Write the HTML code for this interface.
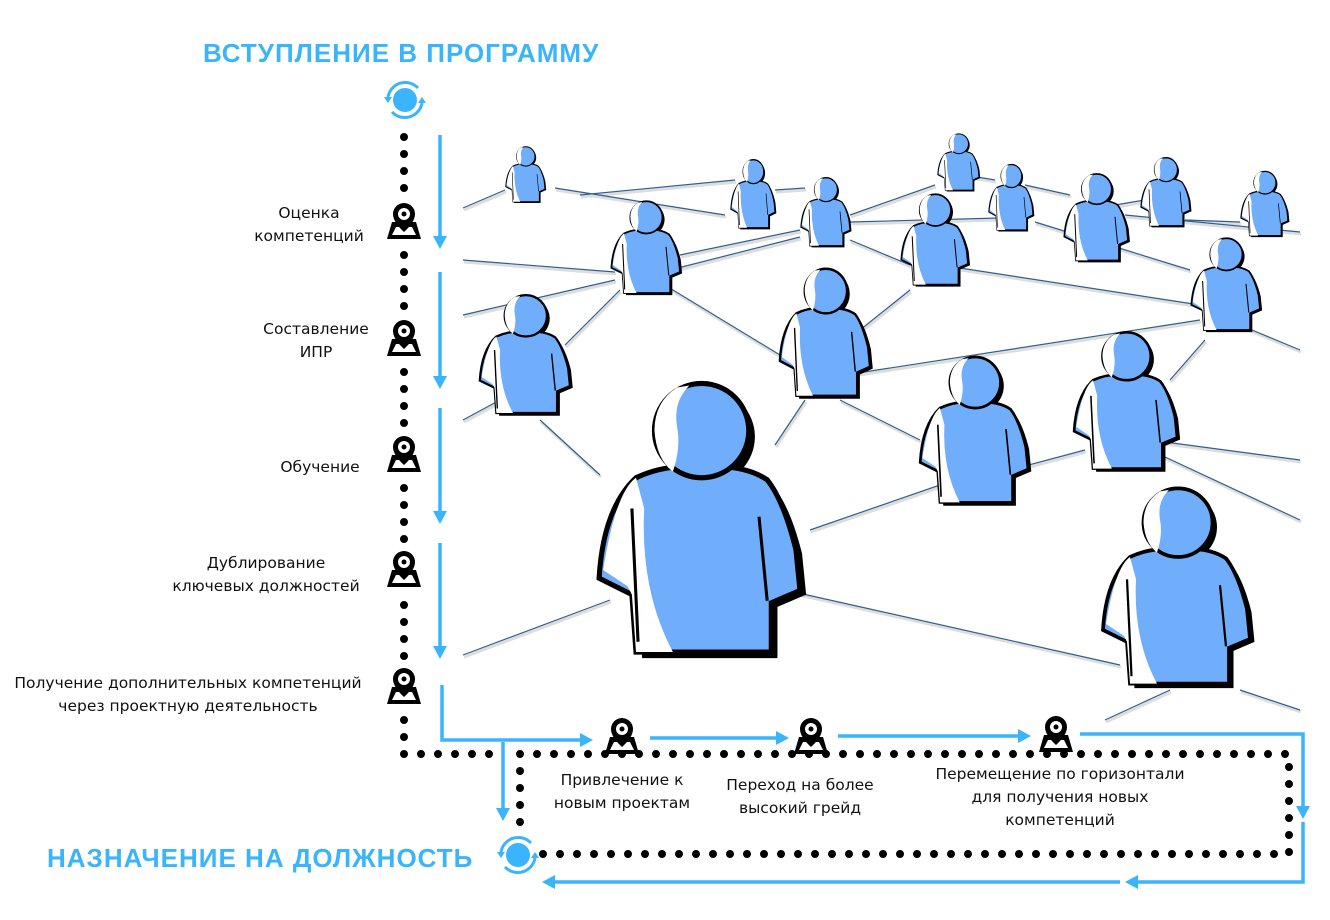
<!DOCTYPE html>
<html><head><meta charset="utf-8"><style>
html,body{margin:0;padding:0;background:#fff;}
svg{display:block;}
text{font-family:"DejaVu Sans","Liberation Sans",sans-serif;}
</style></head><body>
<svg width="1330" height="920" viewBox="0 0 1330 920" xmlns="http://www.w3.org/2000/svg">
<defs>
<g id="person">
  <path d="M23 58 Q38 50 54 52 Q74 50 86 58 Q95 68 101 92 L103 112 L89 118 L89 143 L23 143 L21 114 L5 106 Q7 72 23 58 Z" fill="#000"/>
  <circle cx="55" cy="35" r="23" fill="#000"/>
  <path d="M20 55 Q35 48 52 50 Q72 48 84 56 Q92 66 98 90 L100 110 L86 116 L86 140 L20 140 L18 112 L2 104 Q4 70 20 55 Z" fill="#70aefc" stroke="#000" stroke-width="2.5"/>
  <path d="M20 55 Q10 62 4 100 L16 108 L18 112 L20 140 L38 140 Q22 110 24 70 Z" fill="#fff"/>
  <circle cx="52" cy="32" r="23" fill="#70aefc" stroke="#000" stroke-width="2.5"/>
  <path d="M40 11 Q29 18 29 32 Q30 46 38 52 Q42 40 40 30 Q38 18 46 10 Z" fill="#fff"/>
  <path d="M18 70 L21 135 M80 74 L84 115" stroke="#000" stroke-width="1.5" fill="none"/>
</g>
<g id="pin">
  <polygon points="-12,20 12,20 17,37 -17,37" fill="#000"/>
  <polygon points="-8,25 8,25 12,33 -12,33" fill="#fff"/>
  <path d="M-11 12 A11 11 0 0 1 11 12 Q11 20 0 30 Q-11 20 -11 12 Z" fill="#000"/>
  <circle cx="0" cy="12" r="6" fill="#fff"/>
  <circle cx="0" cy="12" r="2.5" fill="#000"/>
</g>
<g id="cyc">
  <circle r="12" fill="#3ab4fb"/>
  <path d="M-17 -3 A17.5 17.5 0 0 1 13 -12" stroke="#3ab4fb" stroke-width="3" fill="none"/>
  <path d="M17 3 A17.5 17.5 0 0 1 -13 12" stroke="#3ab4fb" stroke-width="3" fill="none"/>
  <polygon points="-21,-3 -13,-3 -17,3" fill="#3ab4fb"/>
  <polygon points="21,3 13,3 17,-3" fill="#3ab4fb"/>
</g>
</defs>

<g stroke-width="3" stroke="#ddd" transform="translate(1,2)" fill="none">
<path id="net" d="M463 208L505 190 M555 188L725 215 M463 260L615 272 M463 315L615 280 M670 270L800 237 M668 287L780 355 M850 215L935 185 M850 222L1000 218 M850 240L910 265 M960 268L1200 305 M1035 222L1190 270 M1125 215L1300 232 M1185 220L1240 222 M463 420L500 400 M540 420L600 475 M565 345L620 290 M860 330L910 290 M845 375L1200 320 M1170 380L1205 340 M1240 325L1300 350 M775 445L805 400 M840 400L920 440 M810 530L940 485 M1010 470L1085 450 M1150 440L1300 460 M1150 450L1300 520 M785 590L1120 665 M463 655L610 600 M1240 690L1300 710 M1105 720L1170 690 M580 195L735 180 M775 190L805 188 M965 175L995 180 M1025 185L1070 195 M1115 205L1145 200 M680 255L800 230"/>
</g>
<use href="#net" stroke="#2f5f8f" stroke-width="1.2" fill="none"/>

<use href="#person" transform="translate(505,143) scale(0.4,0.42)"/>
<use href="#person" transform="translate(730,155) scale(0.45,0.52)"/>
<use href="#person" transform="translate(800,173) scale(0.5,0.52)"/>
<use href="#person" transform="translate(937,130) scale(0.42,0.43)"/>
<use href="#person" transform="translate(988,160) scale(0.45,0.5)"/>
<use href="#person" transform="translate(1063,168) scale(0.65,0.66)"/>
<use href="#person" transform="translate(1140,153) scale(0.5,0.52)"/>
<use href="#person" transform="translate(1240,167) scale(0.48,0.49)"/>
<use href="#person" transform="translate(610,195) scale(0.7,0.7)"/>
<use href="#person" transform="translate(900,188) scale(0.68,0.69)"/>
<use href="#person" transform="translate(1190,232) scale(0.7,0.7)"/>
<use href="#person" transform="translate(478,287) scale(0.92,0.9)"/>
<use href="#person" transform="translate(778,260) scale(0.92,0.97)"/>
<use href="#person" transform="translate(918,347) scale(1.1,1.11)"/>
<use href="#person" transform="translate(1072,323) scale(1.05,1.04)"/>
<use href="#person" transform="translate(595,365) scale(2.05,2.05)"/>
<use href="#person" transform="translate(1100,475) scale(1.5,1.49)"/>

<g stroke="#000" stroke-width="8" stroke-linecap="round" stroke-dasharray="0 17" fill="none">
<path d="M404 137 L404 200"/>
<path d="M404 255 L404 318"/>
<path d="M404 372 L404 435"/>
<path d="M404 488 L404 550"/>
<path d="M404 605 L404 665"/>
<path d="M404 720 L404 754 L490 754"/>
<path d="M520 822 L520 754 L1289 754 L1289 854 L540 854"/>
</g>

<g stroke="#3ab4fb" stroke-width="3.5" fill="none">
<path d="M440 135V238 M440 272V378 M440 408V513 M440 543V648 M442 685V740H582 M650 738H778 M838 736H1020 M1080 734H1303V808 M1303 822V882H1135 M1120 882H552 M503 742V810"/>
</g>
<g fill="#3ab4fb">
<polygon points="433,236 447,236 440,249"/>
<polygon points="433,376 447,376 440,389"/>
<polygon points="433,511 447,511 440,524"/>
<polygon points="433,646 447,646 440,659"/>
<polygon points="580,733 580,747 593,740"/>
<polygon points="776,731 776,745 789,738"/>
<polygon points="1018,729 1018,743 1031,736"/>
<polygon points="1296,806 1310,806 1303,819"/>
<polygon points="1138,875 1138,889 1125,882"/>
<polygon points="555,875 555,889 542,882"/>
<polygon points="496,808 510,808 503,821"/>
</g>

<use href="#cyc" transform="translate(405,100)"/>
<use href="#cyc" transform="translate(518,855)"/>

<use href="#pin" x="404" y="202"/>
<use href="#pin" x="404" y="319"/>
<use href="#pin" x="404" y="435"/>
<use href="#pin" x="404" y="550"/>
<use href="#pin" x="404" y="667"/>
<use href="#pin" x="622" y="717"/>
<use href="#pin" x="811" y="717"/>
<use href="#pin" x="1056" y="715"/>

<text x="203" y="62" font-size="26" font-weight="bold" fill="#3ab4fb" letter-spacing="1" style="font-family:'Liberation Sans',sans-serif">ВСТУПЛЕНИЕ В ПРОГРАММУ</text>
<text x="47" y="867" font-size="26" font-weight="bold" fill="#3ab4fb" letter-spacing="1" style="font-family:'Liberation Sans',sans-serif">НАЗНАЧЕНИЕ НА ДОЛЖНОСТЬ</text>

<g font-size="15.5" fill="#111" text-anchor="middle">
<text x="309" y="218">Оценка</text>
<text x="309" y="241">компетенций</text>
<text x="316" y="334">Составление</text>
<text x="316" y="357">ИПР</text>
<text x="320" y="472">Обучение</text>
<text x="266" y="568">Дублирование</text>
<text x="266" y="591">ключевых должностей</text>
<text x="188" y="688">Получение дополнительных компетенций</text>
<text x="188" y="711">через проектную деятельность</text>
<text x="622" y="785">Привлечение к</text>
<text x="622" y="808">новым проектам</text>
<text x="800" y="790">Переход на более</text>
<text x="800" y="813">высокий грейд</text>
<text x="1060" y="779">Перемещение по горизонтали</text>
<text x="1060" y="802">для получения новых</text>
<text x="1060" y="825">компетенций</text>
</g>
</svg>
</body></html>
